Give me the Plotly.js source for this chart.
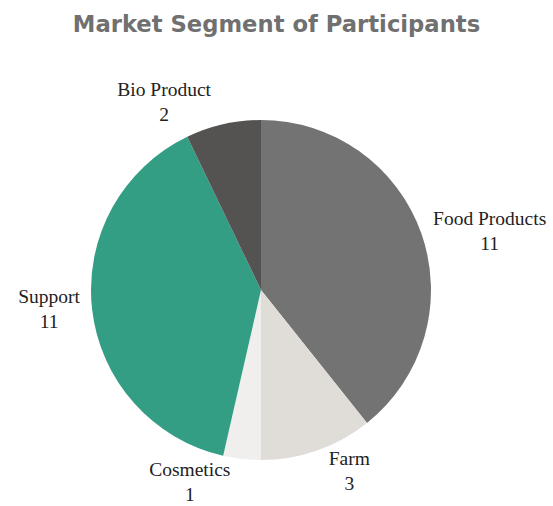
<!DOCTYPE html>
<html>
<head>
<meta charset="utf-8">
<script src="https://cdn.plot.ly/plotly-3.0.1.min.js"></script>
<style>html,body{margin:0;padding:0;background:#fff;}#chart{width:553px;height:506px;}</style>
</head>
<body>
<div id="chart"></div>
<script>
const segments = ["Food Products", "Farm", "Cosmetics", "Support", "Bio Product"];
const participants = [11, 3, 1, 11, 2];
const sliceColors = ["#737373", "#e0ddd8", "#f0efed", "#339e84", "#555351"];

const data = [{
  type: "pie",
  labels: segments,
  values: participants,
  sort: false,
  direction: "clockwise",
  rotation: 0,
  marker: {colors: sliceColors, line: {width: 0}},
  textposition: "outside",
  textinfo: "label+value",
  texttemplate: "%{label}<br>%{value}",
  outsidetextfont: {family: "Liberation Serif, serif", size: 19.5, color: "#222"},
  hoverinfo: "none",
  domain: {x: [91/553, 431/553], y: [1 - 460/506, 1 - 120/506]},
  automargin: false
}];

const layout = {
  width: 553, height: 506,
  margin: {l: 0, r: 0, t: 0, b: 0},
  paper_bgcolor: "#fff",
  showlegend: false,
  title: {
    text: "<b>Market Segment of Participants</b>",
    font: {family: "DejaVu Sans, sans-serif", size: 22.7, color: "#707070"},
    x: 0.5, xanchor: "center", y: 1 - 24/506, yanchor: "middle"
  }
};

Plotly.newPlot("chart", data, layout, {staticPlot: true});
</script>
</body>
</html>
